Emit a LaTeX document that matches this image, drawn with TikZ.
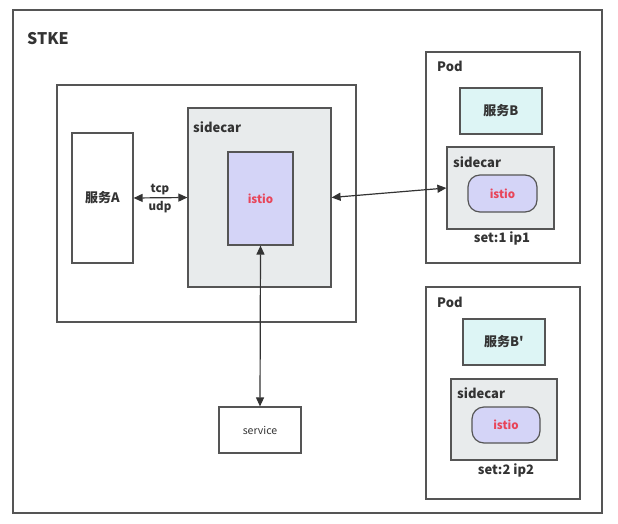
\documentclass[tikz,border=0pt]{standalone}
\usepackage{fontspec}
\setmainfont{Noto Sans CJK SC}
\usepackage{tikz}
\usetikzlibrary{arrows.meta}
\definecolor{edge}{HTML}{555555}
\definecolor{ink}{HTML}{333333}
\definecolor{cargray}{HTML}{E8EBEC}
\definecolor{istiofill}{HTML}{D4D4F7}
\definecolor{istiored}{HTML}{E8455A}
\definecolor{svcfill}{HTML}{DDF5F5}

\begin{document}
\begin{tikzpicture}[x=1pt,y=-1pt]
  \tikzstyle{every node}=[font=\fontsize{13}{15}\selectfont\bfseries, text=ink]
  \tikzstyle{box}=[draw=edge, line width=1.2pt, fill=white, inner sep=0pt]
  \tikzstyle{carbox}=[box, fill=cargray]
  \tikzstyle{istiobox}=[box, fill=istiofill, text=istiored, font=\fontsize{11.5}{13}\selectfont\bfseries]
  \tikzstyle{pill}=[istiobox, rounded corners=12pt]
  \tikzstyle{svcbox}=[box, fill=svcfill]
  \tikzstyle{tag}=[inner sep=0pt, anchor=base west]
  \tikzstyle{link}=[draw=ink, line width=1.2pt, {Triangle[length=9pt,width=8pt]}-{Triangle[length=9pt,width=8pt]}]
  \useasboundingbox (0,0) rectangle (618,524);
  % STKE cluster
  \node[box, minimum width=589pt, minimum height=503pt] (stke) at (307.5,261.5) {};
  \node[tag, font=\fontsize{16}{18}\selectfont\bfseries] (stketag) at (27,45) {STKE};
  % host of service A
  \node[box, minimum width=299pt, minimum height=237pt] (hostA) at (206.5,203.5) {};
  \node[box, minimum width=61pt, minimum height=130pt] (svcA) at (102.5,198) {服务A};
  \node[carbox, minimum width=143pt, minimum height=179pt] (carA) at (259.5,197.5) {};
  \node[tag] (carAtag) at (193,132) {sidecar};
  \node[istiobox, minimum width=65pt, minimum height=93pt] (istioA) at (260.5,198.5) {istio};
  \node[box, minimum width=82pt, minimum height=46pt, font=\fontsize{10.5}{12}\selectfont] (service) at (260,430) {service};
  % pod 1
  \node[box, minimum width=154pt, minimum height=211pt] (pod1) at (503,157.5) {};
  \node[tag] (pod1tag) at (437,72) {Pod};
  \node[svcbox, minimum width=82pt, minimum height=46pt] (svcB) at (501,111) {服务B};
  \node[carbox, minimum width=107pt, minimum height=82pt] (car1) at (500.5,188) {};
  \node[tag] (car1tag) at (453,167) {sidecar};
  \node[pill, minimum width=69pt, minimum height=37pt] (istio1) at (502.5,193.5) {istio};
  \node[inner sep=0pt, anchor=base] (set1) at (502,242) {set:1 ip1};
  % pod 2
  \node[box, minimum width=154pt, minimum height=212pt] (pod2) at (503,393) {};
  \node[tag] (pod2tag) at (437,307) {Pod};
  \node[svcbox, minimum width=82pt, minimum height=46pt] (svcB2) at (504,342) {服务B\textquotesingle};
  \node[carbox, minimum width=106pt, minimum height=81pt] (car2) at (504,419.5) {};
  \node[tag] (car2tag) at (457,398) {sidecar};
  \node[pill, minimum width=68pt, minimum height=36pt] (istio2) at (506,425) {istio};
  \node[inner sep=0pt, anchor=base] (set2) at (506,474) {set:2 ip2};
  % connectors
  \draw[link] (svcA.east) -- (carA.west);
  \node[inner sep=0pt, anchor=base, font=\fontsize{11.5}{13}\selectfont\bfseries] (tcp) at (160,192) {tcp};
  \node[inner sep=0pt, anchor=base, font=\fontsize{11.5}{13}\selectfont\bfseries] (udp) at (160,210) {udp};
  \draw[link] (carA.east) -- (car1.west);
  \draw[link] (istioA.south) -- (service.north);
\end{tikzpicture}
\end{document}
